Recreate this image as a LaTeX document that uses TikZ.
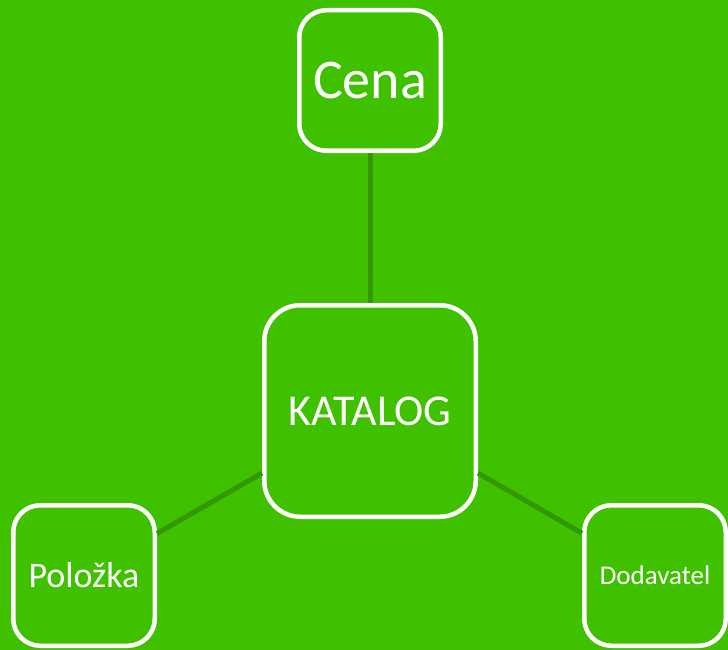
\documentclass[tikz,border=0pt]{standalone}
\usepackage{fontspec}
\setmainfont{Carlito}
\usetikzlibrary{positioning}
\definecolor{leafgreen}{RGB}{64,193,0}
\definecolor{linkgreen}{RGB}{50,152,0}

\begin{document}
\begin{tikzpicture}[
	box/.style={draw=white, line width=4.5pt, rounded corners=27pt, inner sep=0pt,
		minimum width=141.5pt, minimum height=140.5pt, text=white},
	hub/.style={box, rounded corners=36pt, minimum width=211.5pt, minimum height=211.5pt},
	link/.style={draw=linkgreen, line width=5pt}
	]
	\fill[leafgreen] (0pt,0pt) rectangle (728pt,-650pt);

	\node[hub] (katalog) at (370pt,-411pt) {\fontsize{44}{50}\selectfont KATALOG};

	\node[box, above=150pt of katalog] (cena) {\fontsize{56}{60}\selectfont Cena};
	\node[box, below left=-16pt and 105pt of katalog] (polozka) {\fontsize{36}{40}\selectfont Položka};
	\node[box, below right=-16pt and 104pt of katalog] (dodavatel) {\fontsize{27}{30}\selectfont Dodavatel};

	\draw[link] (cena) -- (katalog);
	\draw[link] (polozka) -- (katalog);
	\draw[link] (dodavatel) -- (katalog);
\end{tikzpicture}
\end{document}
